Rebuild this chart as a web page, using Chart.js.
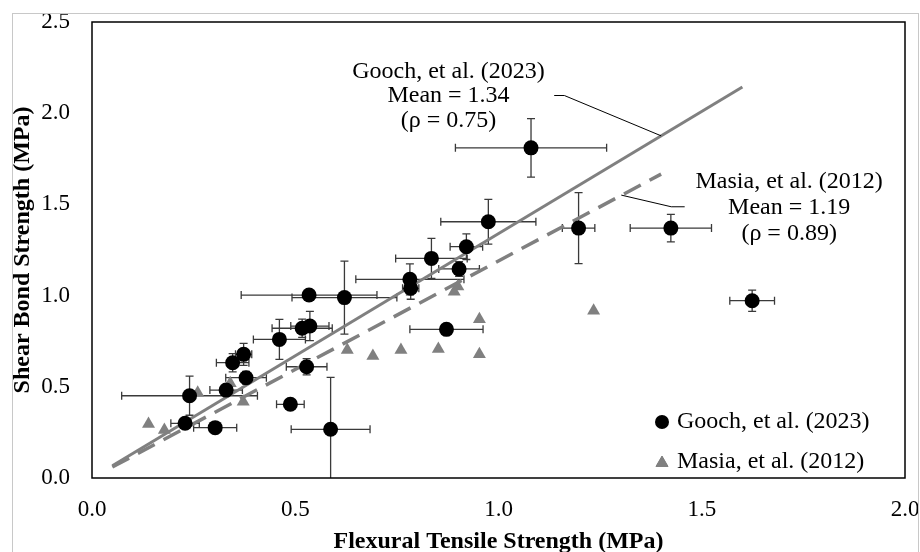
<!DOCTYPE html>
<html>
<head>
<meta charset="utf-8">
<script src="https://cdn.jsdelivr.net/npm/chart.js@4.4.0/dist/chart.umd.min.js"></script>
<style>
  body { margin: 0; background: #fff; }
</style>
</head>
<body>
<canvas id="chart" width="920" height="552"></canvas>
<script>
// Gooch, et al. (2023): mean values with +/- std dev bars
const goochX    = [1.080, 1.197, 1.424, 1.624, 0.975, 0.921, 0.835, 0.903, 0.782, 0.784, 0.534, 0.621, 0.517,
                   0.536, 0.461, 0.373, 0.346, 0.379, 0.330, 0.240, 0.229, 0.303, 0.488, 0.528, 0.587, 0.872];
const goochY    = [1.810, 1.370, 1.370, 0.972, 1.405, 1.268, 1.204, 1.146, 1.089, 1.040, 1.003, 0.989, 0.821,
                   0.833, 0.760, 0.678, 0.632, 0.550, 0.482, 0.451, 0.300, 0.276, 0.404, 0.610, 0.267, 0.815];
const goochXErr = [0.186, 0.040, 0.100, 0.055, 0.117, 0.040, 0.088, 0.050, 0.133, 0.020, 0.167, 0.129, 0.074,
                   0.047, 0.064, 0.020, 0.040, 0.050, 0.040, 0.167, 0.035, 0.053, 0.034, 0.050, 0.097, 0.090];
const goochYErr = [0.160, 0.195, 0.075, 0.058, 0.123, 0.070, 0.110, 0.040, 0.085, 0.060, 0.000, 0.200, 0.050,
                   0.080, 0.110, 0.060, 0.050, 0.035, 0.020, 0.107, 0.020, 0.020, 0.020, 0.045, 0.285, 0.000];

// Masia, et al. (2012)
const masiaX = [0.139, 0.178, 0.260, 0.340, 0.372, 0.628, 0.691, 0.760, 0.852, 0.891, 0.900, 0.953, 0.953, 1.234];
const masiaY = [0.296, 0.263, 0.468, 0.519, 0.418, 0.702, 0.669, 0.702, 0.707, 1.021, 1.050, 0.870, 0.678, 0.917];

// mean ratio lines (shear / flexural)
const goochLineX = [0.05, 1.60];
const goochLineY = [0.067, 2.144];
const masiaLineX = [0.05, 1.40];
const masiaLineY = [0.060, 1.666];

const xTicks = [0, 0.5, 1.0, 1.5, 2.0];
const yTicks = [0, 0.5, 1.0, 1.5, 2.0, 2.5];

const legendLabels = ['Gooch, et al. (2023)', 'Masia, et al. (2012)'];
const goochNote = ['Gooch, et al. (2023)', 'Mean = 1.34', '(\u03c1 = 0.75)'];
const masiaNote = ['Masia, et al. (2012)', 'Mean = 1.19', '(\u03c1 = 0.89)'];

const FONT = "'Liberation Serif', 'Times New Roman', serif";
const GREY = '#808080';

const toPts = (xs, ys) => xs.map((v, i) => ({x: v, y: ys[i]}));

// thin outer figure border + box round the plot area
const frame = {
  id: 'frame',
  afterDraw(chart) {
    const {ctx, chartArea: a} = chart;
    ctx.save();
    ctx.strokeStyle = '#c8c8c8';
    ctx.lineWidth = 1;
    ctx.strokeRect(12.5, 13.5, 906, 600);
    ctx.strokeStyle = '#000';
    ctx.lineWidth = 1.5;
    ctx.strokeRect(a.left, a.top, a.width, a.height);
    ctx.restore();
  }
};

const errorBars = {
  id: 'errorBars',
  beforeDatasetsDraw(chart) {
    const {ctx, chartArea: a, scales: {x, y}} = chart;
    const cap = 4;
    ctx.save();
    ctx.beginPath();
    ctx.rect(a.left, a.top, a.width, a.height);
    ctx.clip();
    ctx.strokeStyle = '#3a3a3a';
    ctx.lineWidth = 1.3;
    goochX.forEach((gx, i) => {
      const gy = goochY[i];
      const px = x.getPixelForValue(gx), py = y.getPixelForValue(gy);
      const xe = goochXErr[i], ye = goochYErr[i];
      ctx.beginPath();
      if (xe > 0) {
        const l = x.getPixelForValue(gx - xe), r = x.getPixelForValue(gx + xe);
        ctx.moveTo(l, py); ctx.lineTo(r, py);
        ctx.moveTo(l, py - cap); ctx.lineTo(l, py + cap);
        ctx.moveTo(r, py - cap); ctx.lineTo(r, py + cap);
      }
      if (ye > 0) {
        const t = y.getPixelForValue(gy + ye), b = y.getPixelForValue(gy - ye);
        ctx.moveTo(px, t); ctx.lineTo(px, b);
        ctx.moveTo(px - cap, t); ctx.lineTo(px + cap, t);
        ctx.moveTo(px - cap, b); ctx.lineTo(px + cap, b);
      }
      ctx.stroke();
    });
    ctx.restore();
  }
};

// text callouts with leader lines pointing at the mean lines
const notes = [
  {lines: goochNote, at: [0.877, 2.230], gap: 24.5, leader: [[1.137, 2.097], [1.162, 2.097], [1.400, 1.876]]},
  {lines: masiaNote, at: [1.715, 1.625], gap: 26, leader: [[1.458, 1.487], [1.425, 1.487], [1.302, 1.551]]}
];

const callouts = {
  id: 'callouts',
  afterDatasetsDraw(chart) {
    const {ctx, scales: {x, y}} = chart;
    ctx.save();
    ctx.fillStyle = '#000';
    ctx.font = '24px ' + FONT;
    ctx.textAlign = 'center';
    ctx.textBaseline = 'middle';
    notes.forEach(n => {
      const cx = x.getPixelForValue(n.at[0]), cy = y.getPixelForValue(n.at[1]);
      n.lines.forEach((t, k) => ctx.fillText(t, cx, cy + k * n.gap));
      ctx.beginPath();
      n.leader.forEach((p, k) => {
        const px = x.getPixelForValue(p[0]), py = y.getPixelForValue(p[1]);
        k ? ctx.lineTo(px, py) : ctx.moveTo(px, py);
      });
      ctx.strokeStyle = '#000';
      ctx.lineWidth = 1;
      ctx.stroke();
    });
    ctx.restore();
  }
};

// legend sits inside the plot, bottom right
const insideLegend = {
  id: 'insideLegend',
  afterDraw(chart) {
    const {ctx, chartArea: a} = chart;
    const mx = a.right - 243, tx = a.right - 228;
    const rows = [a.bottom - 56, a.bottom - 16];
    ctx.save();
    ctx.fillStyle = '#000';
    ctx.beginPath(); ctx.arc(mx, rows[0], 7, 0, Math.PI * 2); ctx.fill();
    ctx.fillStyle = GREY;
    ctx.strokeStyle = GREY;
    Chart.helpers.drawPoint(ctx, {pointStyle: 'triangle', radius: 7, borderWidth: 1}, mx, rows[1] + 1);
    ctx.fill();
    ctx.fillStyle = '#000';
    ctx.font = '24px ' + FONT;
    ctx.textAlign = 'left';
    ctx.textBaseline = 'middle';
    legendLabels.forEach((t, k) => ctx.fillText(t, tx, rows[k]));
    ctx.restore();
  }
};

Chart.defaults.color = '#000';
Chart.defaults.font.family = FONT;

new Chart(document.getElementById('chart'), {
  type: 'scatter',
  data: {
    datasets: [
      {
        label: legendLabels[0],
        data: toPts(goochX, goochY),
        pointStyle: 'circle',
        pointRadius: 7.5,
        backgroundColor: '#000',
        borderColor: '#000',
        borderWidth: 0,
        order: 0
      },
      {
        label: legendLabels[1],
        data: toPts(masiaX, masiaY),
        pointStyle: 'triangle',
        pointRadius: 7.5,
        backgroundColor: GREY,
        borderColor: GREY,
        borderWidth: 0,
        order: 1
      },
      {
        label: 'Gooch mean',
        data: toPts(goochLineX, goochLineY),
        showLine: true,
        pointRadius: 0,
        borderColor: GREY,
        borderWidth: 3,
        order: 2
      },
      {
        label: 'Masia mean',
        data: toPts(masiaLineX, masiaLineY),
        showLine: true,
        pointRadius: 0,
        borderColor: GREY,
        borderWidth: 3.5,
        borderDash: [19, 10],
        order: 2
      }
    ]
  },
  options: {
    responsive: false,
    animation: false,
    devicePixelRatio: 1,
    layout: { padding: { top: 22, right: 15, left: 0, bottom: 0 } },
    plugins: {
      legend: { display: false },
      tooltip: { enabled: false }
    },
    scales: {
      x: {
        type: 'linear',
        min: 0,
        max: 2,
        afterBuildTicks: s => { s.ticks = xTicks.map(v => ({value: v})); },
        afterFit: s => { s.height = 74; s.paddingLeft = 0; s.paddingRight = 0; },
        grid: { display: false, drawTicks: false },
        border: { display: false },
        ticks: {
          padding: 18,
          font: { size: 23 },
          callback: v => v.toFixed(1)
        },
        title: {
          display: true,
          text: 'Flexural Tensile Strength (MPa)',
          font: { size: 24, weight: 'bold', lineHeight: 1 },
          padding: { top: 0, bottom: -2 }
        }
      },
      y: {
        type: 'linear',
        min: 0,
        max: 2.5,
        afterBuildTicks: s => { s.ticks = yTicks.map(v => ({value: v})); },
        afterFit: s => { s.width = 92; s.paddingTop = 0; s.paddingBottom = 0; },
        grid: { display: false, drawTicks: false },
        border: { display: false },
        ticks: {
          padding: 22,
          font: { size: 23 },
          callback: v => v.toFixed(1)
        },
        title: {
          display: true,
          text: 'Shear Bond Strength (MPa)',
          font: { size: 24, weight: 'bold', lineHeight: 1 },
          padding: { top: 11, bottom: 0 }
        }
      }
    }
  },
  plugins: [errorBars, callouts, insideLegend, frame]
});
</script>
</body>
</html>
